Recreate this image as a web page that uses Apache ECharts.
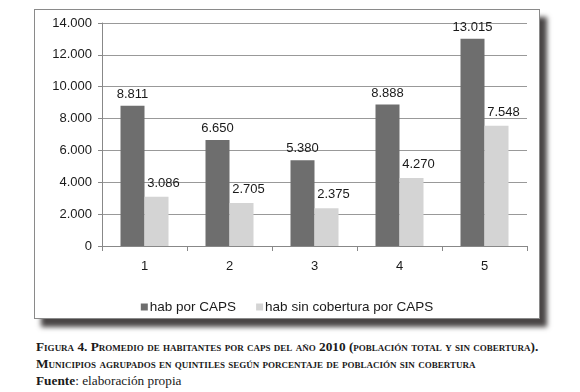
<!DOCTYPE html>
<html>
<head>
<meta charset="utf-8">
<title>Promedio de habitantes por CAPS</title>
<script src="https://cdn.jsdelivr.net/npm/echarts@6/dist/echarts.min.js"></script>
<style>
  body { margin: 0; background: #fff; width: 580px; height: 392px; position: relative; overflow: hidden; }
  #frame { position: absolute; left: 34px; top: 9px; width: 506px; height: 310px; box-sizing: border-box;
           border: 1px solid #8a8a8a; background: #fff; box-shadow: 7px 8px 5px #4a4646; }
  #main { width: 504px; height: 308px; }
  .cap { position: absolute; left: 36px; font-family: "Times New Roman", "Liberation Serif", "DejaVu Serif", serif; color: #1a1a1a; white-space: nowrap; line-height: 16px; }
  .sc { font-variant: small-caps; font-weight: bold; font-size: 13.3px; }
</style>
</head>
<body>
<div id="frame"><div id="main"></div></div>
<div class="cap sc" style="top:339px;">Figura 4. Promedio de habitantes por caps del año 2010 (población total y sin cobertura).</div>
<div class="cap sc" style="top:356px;">Municipios agrupados en quintiles según porcentaje de población sin cobertura</div>
<div class="cap" style="top:373px; font-size:13.3px;"><b>Fuente</b>: elaboración propia</div>
<script type="text/javascript">
var categorias = ['1', '2', '3', '4', '5'];
var habPorCaps = [8811, 6650, 5380, 8888, 13015];
var habSinCobertura = [3086, 2705, 2375, 4270, 7548];
var nombres = ['hab por CAPS', 'hab sin cobertura por CAPS'];

// separador de miles con punto
function miles(v) {
    return String(v).replace(/\B(?=(\d{3})+(?!\d))/g, '.');
}

var myChart = echarts.init(document.getElementById('main'));
myChart.setOption({
    animation: false,
    textStyle: { fontFamily: 'Liberation Sans, Arial, sans-serif' },
    grid: { left: 67, top: 13, right: 12, bottom: 72, containLabel: false },
    legend: {
        data: nombres,
        top: 285,
        left: 'center',
        itemWidth: 7,
        itemHeight: 7,
        itemGap: 20,
        icon: 'rect',
        textStyle: { fontSize: 13.5, color: '#1a1a1a', padding: [0, 0, 0, -3] }
    },
    xAxis: {
        type: 'category',
        data: categorias,
        axisLine: { lineStyle: { color: '#888', width: 1 } },
        axisTick: { show: true, length: 5, lineStyle: { color: '#888' } },
        axisLabel: { fontSize: 13, color: '#1a1a1a', margin: 14 }
    },
    yAxis: {
        type: 'value',
        min: 0,
        max: 14000,
        interval: 2000,
        axisLine: { show: true, lineStyle: { color: '#888' } },
        axisTick: { show: true, length: 4, lineStyle: { color: '#888' } },
        splitLine: { lineStyle: { color: '#999', width: 1 } },
        axisLabel: { fontSize: 13, color: '#1a1a1a', margin: 10, formatter: miles }
    },
    series: [{
        name: nombres[0],
        type: 'bar',
        data: habPorCaps,
        barWidth: 24,
        barGap: '0%',
        itemStyle: { color: '#6e6e6e' },
        label: {
            show: true, position: 'top', distance: 5, fontSize: 13, color: '#1a1a1a',
            formatter: function (p) { return miles(p.value); }
        }
    }, {
        name: nombres[1],
        type: 'bar',
        data: habSinCobertura,
        barWidth: 24,
        itemStyle: { color: '#d4d4d4' },
        label: {
            show: true, position: 'top', distance: 7, offset: [7, 0], fontSize: 13, color: '#1a1a1a',
            formatter: function (p) { return miles(p.value); }
        }
    }]
});
</script>
</body>
</html>
